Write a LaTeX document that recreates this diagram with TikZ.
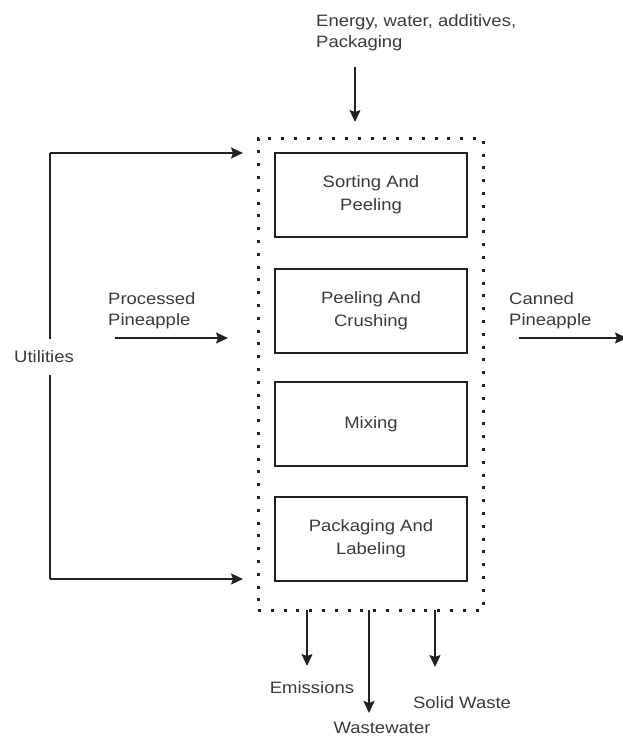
\documentclass[tikz,border=0pt]{standalone}
\usepackage{fontspec}
\setmainfont[FakeStretch=1.12]{Liberation Sans}
\usetikzlibrary{arrows.meta}
\definecolor{txt}{HTML}{3A3A3A}
\definecolor{ln}{HTML}{222222}
\begin{document}
\begin{tikzpicture}[x=1pt,y=-1pt,
  lbl/.style={text=txt,font=\fontsize{16.5}{21}\selectfont,inner sep=0pt,align=center},
  lbll/.style={text=txt,font=\fontsize{16.5}{21}\selectfont,inner sep=0pt,align=left},
  procbox/.style={draw=ln,line width=1.7pt,minimum width=192pt,minimum height=84pt,inner sep=0pt,
     text=txt,font=\fontsize{16.5}{23}\selectfont,align=center},
  outerbox/.style={draw=ln,line width=3pt,dash pattern=on 3pt off 9.8pt,minimum width=225pt,minimum height=472pt,inner sep=0pt},
  flow/.style={draw=ln,line width=1.7pt,-{Stealth[length=12pt,width=11pt,inset=2pt]}},
  plain/.style={draw=ln,line width=1.7pt}]
\useasboundingbox (0,0) rectangle (622,737);

% outer dotted box
\node[outerbox] (outer) at (370.5,374) {};
% process boxes
\node[procbox] (s1) at (371,195) {Sorting And\\Peeling};
\node[procbox] (s2) at (371,311) {Peeling And\\Crushing};
\node[procbox] (s3) at (371,424) {Mixing};
\node[procbox] (s4) at (371,539) {Packaging And\\Labeling};

% top input
\node[lbll,anchor=north west] (energy) at (316,14) {Energy, water, additives,\\Packaging};
\coordinate (eTop) at (355,67);
\coordinate (eEnd) at (355,122);
\draw[flow] (eTop) -- (eEnd);

% utilities
\node[lbl] (util) at (44,357) {Utilities};
\coordinate (ut) at (50,153);
\coordinate (ub) at (50,579);
\coordinate (uta) at (243,153);
\coordinate (uba) at (243,579);
\draw[plain] (util.north -| ut) ++(0,-12) -- (ut);
\draw[plain] (util.south -| ub) ++(0,12) -- (ub);
\draw[flow] (ut) -- (uta);
\draw[flow] (ub) -- (uba);

% processed pineapple
\node[lbll,anchor=north west] (proc) at (108,292) {Processed\\Pineapple};
\coordinate (pS) at (115,338);
\coordinate (pE) at (228,338);
\draw[flow] (pS) -- (pE);

% canned pineapple
\node[lbll,anchor=north west] (can) at (509,292) {Canned\\Pineapple};
\coordinate (cS) at (519,338);
\coordinate (cE) at (627,338);
\draw[flow] (cS) -- (cE);

% outputs
\coordinate (o1) at (307,610);
\coordinate (o1e) at (307,666);
\coordinate (o2) at (369,610);
\coordinate (o2e) at (369,713);
\coordinate (o3) at (435,610);
\coordinate (o3e) at (435,667);
\draw[flow] (o1) -- (o1e);
\draw[flow] (o2) -- (o2e);
\draw[flow] (o3) -- (o3e);
\node[lbl] (emis) at (312,688) {Emissions};
\node[lbl] (waste) at (382,728) {Wastewater};
\node[lbl] (solid) at (462,703) {Solid Waste};
\end{tikzpicture}
\end{document}
